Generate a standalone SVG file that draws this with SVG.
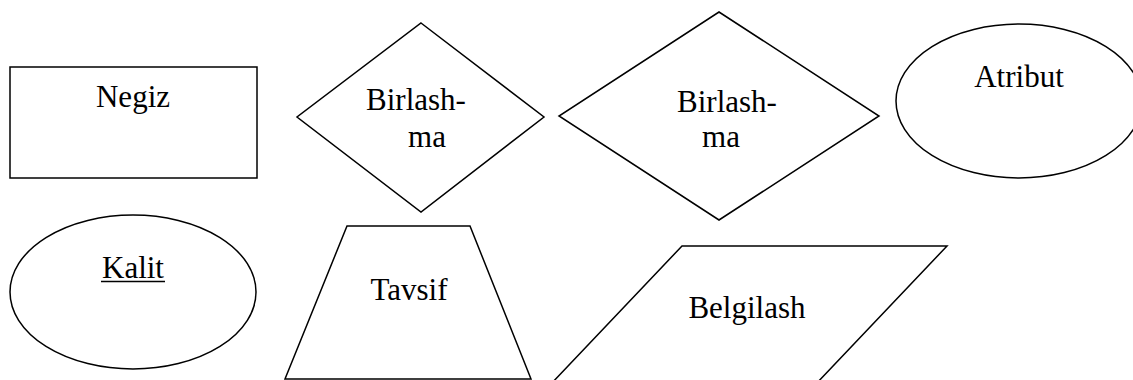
<svg xmlns="http://www.w3.org/2000/svg" width="1133" height="380" viewBox="0 0 1133 380">
<style>
.s{fill:#fff;stroke:#000;stroke-width:1.5}
.t{font-family:'Liberation Serif','DejaVu Serif',serif;font-size:31px;fill:#000;text-anchor:middle}
</style>
<rect width="1133" height="380" fill="#fff"/>
<g id="negiz"><rect class="s" x="10" y="67" width="247" height="111"/><text class="t" x="133" y="107">Negiz</text></g>
<g id="birlashma1"><polygon class="s" points="421,23 544,117 421,212 297,117"/><text class="t" x="416" y="110">Birlash-</text><text class="t" x="427" y="147">ma</text></g>
<g id="birlashma2"><polygon class="s" points="719,12 879,116 719,220 559,116"/><text class="t" x="727" y="112">Birlash-</text><text class="t" x="721" y="147">ma</text></g>
<g id="atribut"><ellipse class="s" cx="1019" cy="101" rx="123" ry="77"/><text class="t" x="1019" y="87">Atribut</text></g>
<g id="kalit"><ellipse class="s" cx="133" cy="292" rx="123" ry="77"/><text class="t" x="133" y="278">Kalit</text><line x1="101" y1="281.5" x2="165" y2="281.5" stroke="#000" stroke-width="1.5"/></g>
<g id="tavsif"><polygon class="s" points="347,226 470,226 531,379 285,379"/><text class="t" x="409" y="300">Tavsif</text></g>
<g id="belgilash"><polygon class="s" points="682,246 947,246 815,385 550,385"/><text class="t" x="747" y="318">Belgilash</text></g>
<g id="connectors"/>
</svg>
